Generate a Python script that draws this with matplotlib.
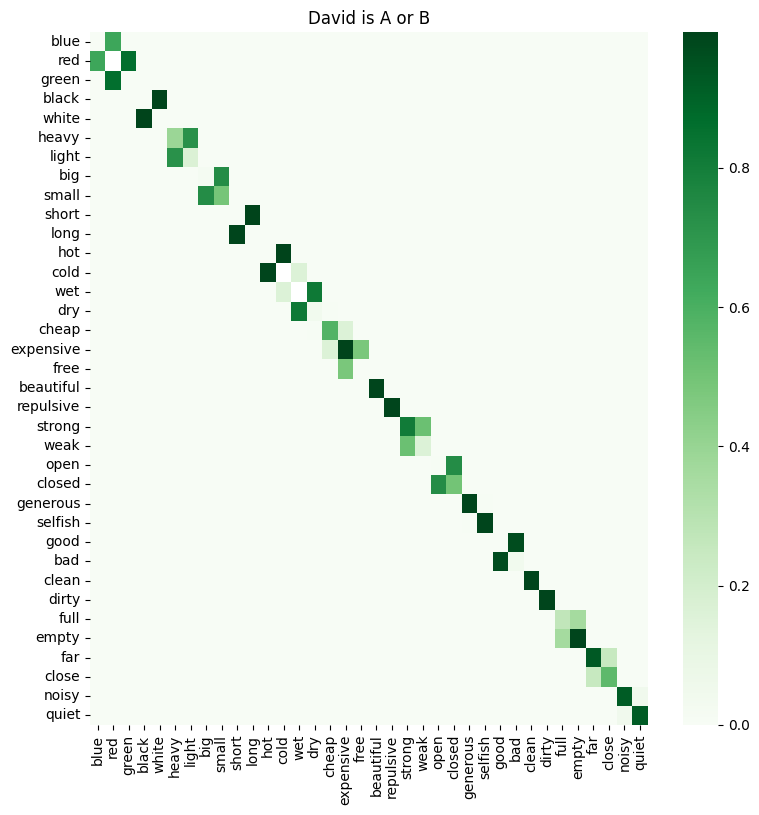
import numpy as np
import matplotlib
matplotlib.use("Agg")
import matplotlib.pyplot as plt
import seaborn as sns

words = ["blue", "red", "green", "black", "white", "heavy", "light", "big",
         "small", "short", "long", "hot", "cold", "wet", "dry", "cheap",
         "expensive", "free", "beautiful", "repulsive", "strong", "weak",
         "open", "closed", "generous", "selfish", "good", "bad", "clean",
         "dirty", "full", "empty", "far", "close", "noisy", "quiet"]

# non-zero cells: (row word, column word, value)
cell_rows = ["blue", "red", "red", "green", "black", "white",
             "heavy", "heavy", "light", "light", "big", "big", "small", "small",
             "short", "long", "hot", "cold", "cold", "wet", "wet",
             "dry", "dry", "dry", "cheap", "cheap", "cheap",
             "expensive", "expensive", "expensive", "free",
             "beautiful", "repulsive", "strong", "strong", "weak", "weak",
             "open", "open", "closed", "closed", "generous", "generous",
             "selfish", "selfish", "good", "bad", "bad", "clean", "dirty",
             "full", "full", "empty", "empty", "far", "far", "close", "close",
             "noisy", "noisy", "quiet", "quiet"]
cell_cols = ["red", "blue", "green", "red", "white", "black",
             "heavy", "light", "heavy", "light", "big", "small", "big", "small",
             "long", "short", "cold", "hot", "wet", "cold", "dry",
             "wet", "dry", "cheap", "dry", "cheap", "expensive",
             "cheap", "expensive", "free", "expensive",
             "beautiful", "repulsive", "strong", "weak", "strong", "weak",
             "open", "closed", "open", "closed", "generous", "selfish",
             "generous", "selfish", "bad", "good", "bad", "clean", "dirty",
             "full", "empty", "full", "empty", "far", "close", "far", "close",
             "noisy", "quiet", "noisy", "quiet"]
cell_vals = [0.64, 0.64, 0.86, 0.86, 0.995, 0.995,
             0.39, 0.72, 0.72, 0.17, 0.02, 0.74, 0.74, 0.49,
             0.995, 0.99, 0.995, 0.99, 0.16, 0.16, 0.82,
             0.82, 0.04, 0.01, 0.01, 0.58, 0.16,
             0.16, 0.995, 0.48, 0.48,
             0.99, 0.99, 0.81, 0.52, 0.52, 0.16,
             0.01, 0.74, 0.74, 0.50, 0.99, 0.01,
             0.01, 0.99, 0.97, 0.97, 0.04, 0.99, 0.99,
             0.27, 0.36, 0.36, 0.99, 0.93, 0.25, 0.25, 0.55,
             0.92, 0.05, 0.05, 0.92]

# cells left blank (no value)
blank_cells = ["red", "cold", "wet"]

n = len(words)
idx = {w: i for i, w in enumerate(words)}
mat = np.zeros((n, n))
for r, c, v in zip(cell_rows, cell_cols, cell_vals):
    mat[idx[r], idx[c]] = v
for w in blank_cells:
    mat[idx[w], idx[w]] = np.nan

W, H = 759, 815
fig = plt.figure(figsize=(W / 100, H / 100), dpi=100)
ax = fig.add_axes([90 / W, 1 - 725 / H, 557.5 / W, 693 / H])
cax = fig.add_axes([683 / W, 1 - 725 / H, 35 / W, 693 / H])
sns.heatmap(mat, ax=ax, cbar_ax=cax, cmap="Greens",
            xticklabels=words, yticklabels=words)
ax.set_title("David is A or B")
ax.tick_params(axis="x", rotation=90)
ax.tick_params(axis="y", rotation=0)
fig.savefig("out.png", dpi=100)
